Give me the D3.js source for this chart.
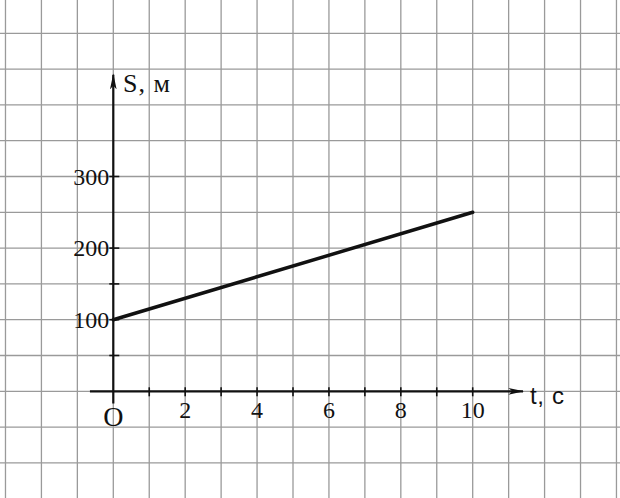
<!DOCTYPE html>
<html>
<head>
<meta charset="utf-8">
<script src="https://cdn.jsdelivr.net/npm/d3@7"></script>
<style>
  body { margin: 0; background: #fff; }
  svg { display: block; }
  text { font-family: "Liberation Serif", "DejaVu Serif", serif; fill: #111; }
</style>
</head>
<body>
<script>
// Data
const times = [0, 10];
const distances = [100, 250];
const xTickValues = [1, 2, 3, 4, 5, 6, 7, 8, 9, 10];
const xTickLabels = [2, 4, 6, 8, 10];
const yTickValues = [50, 100, 150, 200, 300];
const yTickLabels = [100, 200, 300];

const width = 620;
const height = 498;

var svg = d3.select("body")
    .append("svg")
    .attr("width", width)
    .attr("height", height);

// scales: 1 s = one grid cell, 50 m = one grid cell
const x = d3.scaleLinear().domain([0, 10]).range([113.3, 472.7]);
const y = d3.scaleLinear().domain([0, 300]).range([391.3, 176.5]);

// squared paper
const grid = svg.append("g").attr("stroke", "#9a9a9a").attr("stroke-width", 1.3);
grid.selectAll(".gx")
    .data(d3.range(-3, 15))
    .enter().append("line")
    .attr("x1", d => x(d)).attr("x2", d => x(d))
    .attr("y1", 0).attr("y2", height);
grid.selectAll(".gy")
    .data(d3.range(-150, 600, 50))
    .enter().append("line")
    .attr("y1", d => y(d)).attr("y2", d => y(d))
    .attr("x1", 0).attr("x2", width);

// axes
svg.append("defs").append("marker")
    .attr("id", "arrow")
    .attr("viewBox", "0 0 12 6")
    .attr("refX", 11).attr("refY", 3)
    .attr("markerWidth", 16).attr("markerHeight", 8)
    .attr("markerUnits", "userSpaceOnUse")
    .attr("orient", "auto")
    .append("path")
    .attr("d", "M0,0.5 L12,3 L0,5.5 L3,3 Z")
    .attr("fill", "#111");

svg.append("line")
    .attr("x1", x(-0.65)).attr("x2", x(11.4))
    .attr("y1", y(0)).attr("y2", y(0))
    .attr("stroke", "#111").attr("stroke-width", 2.2)
    .attr("marker-end", "url(#arrow)");

svg.append("line")
    .attr("x1", x(0)).attr("x2", x(0))
    .attr("y1", y(-17)).attr("y2", y(442))
    .attr("stroke", "#111").attr("stroke-width", 2.2)
    .attr("marker-end", "url(#arrow)");

// ticks
svg.selectAll(".xt")
    .data(xTickValues)
    .enter().append("line")
    .attr("x1", d => x(d)).attr("x2", d => x(d))
    .attr("y1", y(0) - 4).attr("y2", y(0) + 5)
    .attr("stroke", "#111").attr("stroke-width", 1.6);

svg.selectAll(".yt")
    .data(yTickValues)
    .enter().append("line")
    .attr("x1", x(0) - 4).attr("x2", x(0) + 6)
    .attr("y1", d => y(d)).attr("y2", d => y(d))
    .attr("stroke", "#111").attr("stroke-width", 1.6);

// tick labels
svg.selectAll(".xl")
    .data(xTickLabels)
    .enter().append("text")
    .attr("x", d => x(d))
    .attr("y", y(0) + 27)
    .attr("text-anchor", "middle")
    .attr("font-size", 24)
    .text(d => d);

svg.selectAll(".yl")
    .data(yTickLabels)
    .enter().append("text")
    .attr("x", x(0) - 4)
    .attr("y", d => y(d) + 8)
    .attr("text-anchor", "end")
    .attr("font-size", 24)
    .text(d => d);

svg.append("text")
    .attr("x", x(0))
    .attr("y", 426)
    .attr("text-anchor", "middle")
    .attr("font-size", 28)
    .text("O");

// axis names
svg.append("text")
    .attr("x", 123)
    .attr("y", 92)
    .attr("font-size", 26)
    .attr("textLength", 47)
    .attr("lengthAdjust", "spacing")
    .text("S, м");

svg.append("text")
    .attr("x", 530)
    .attr("y", 404)
    .attr("font-size", 24)
    .style("font-family", "'Liberation Sans', sans-serif")
    .attr("textLength", 34)
    .attr("lengthAdjust", "spacing")
    .text("t, с");

// graph
const line = d3.line()
    .x((d, i) => x(times[i]))
    .y(d => y(d));

svg.append("path")
    .datum(distances)
    .attr("d", line)
    .attr("fill", "none")
    .attr("stroke", "#111")
    .attr("stroke-width", 3.5)
    .attr("stroke-linecap", "round");
</script>
</body>
</html>
